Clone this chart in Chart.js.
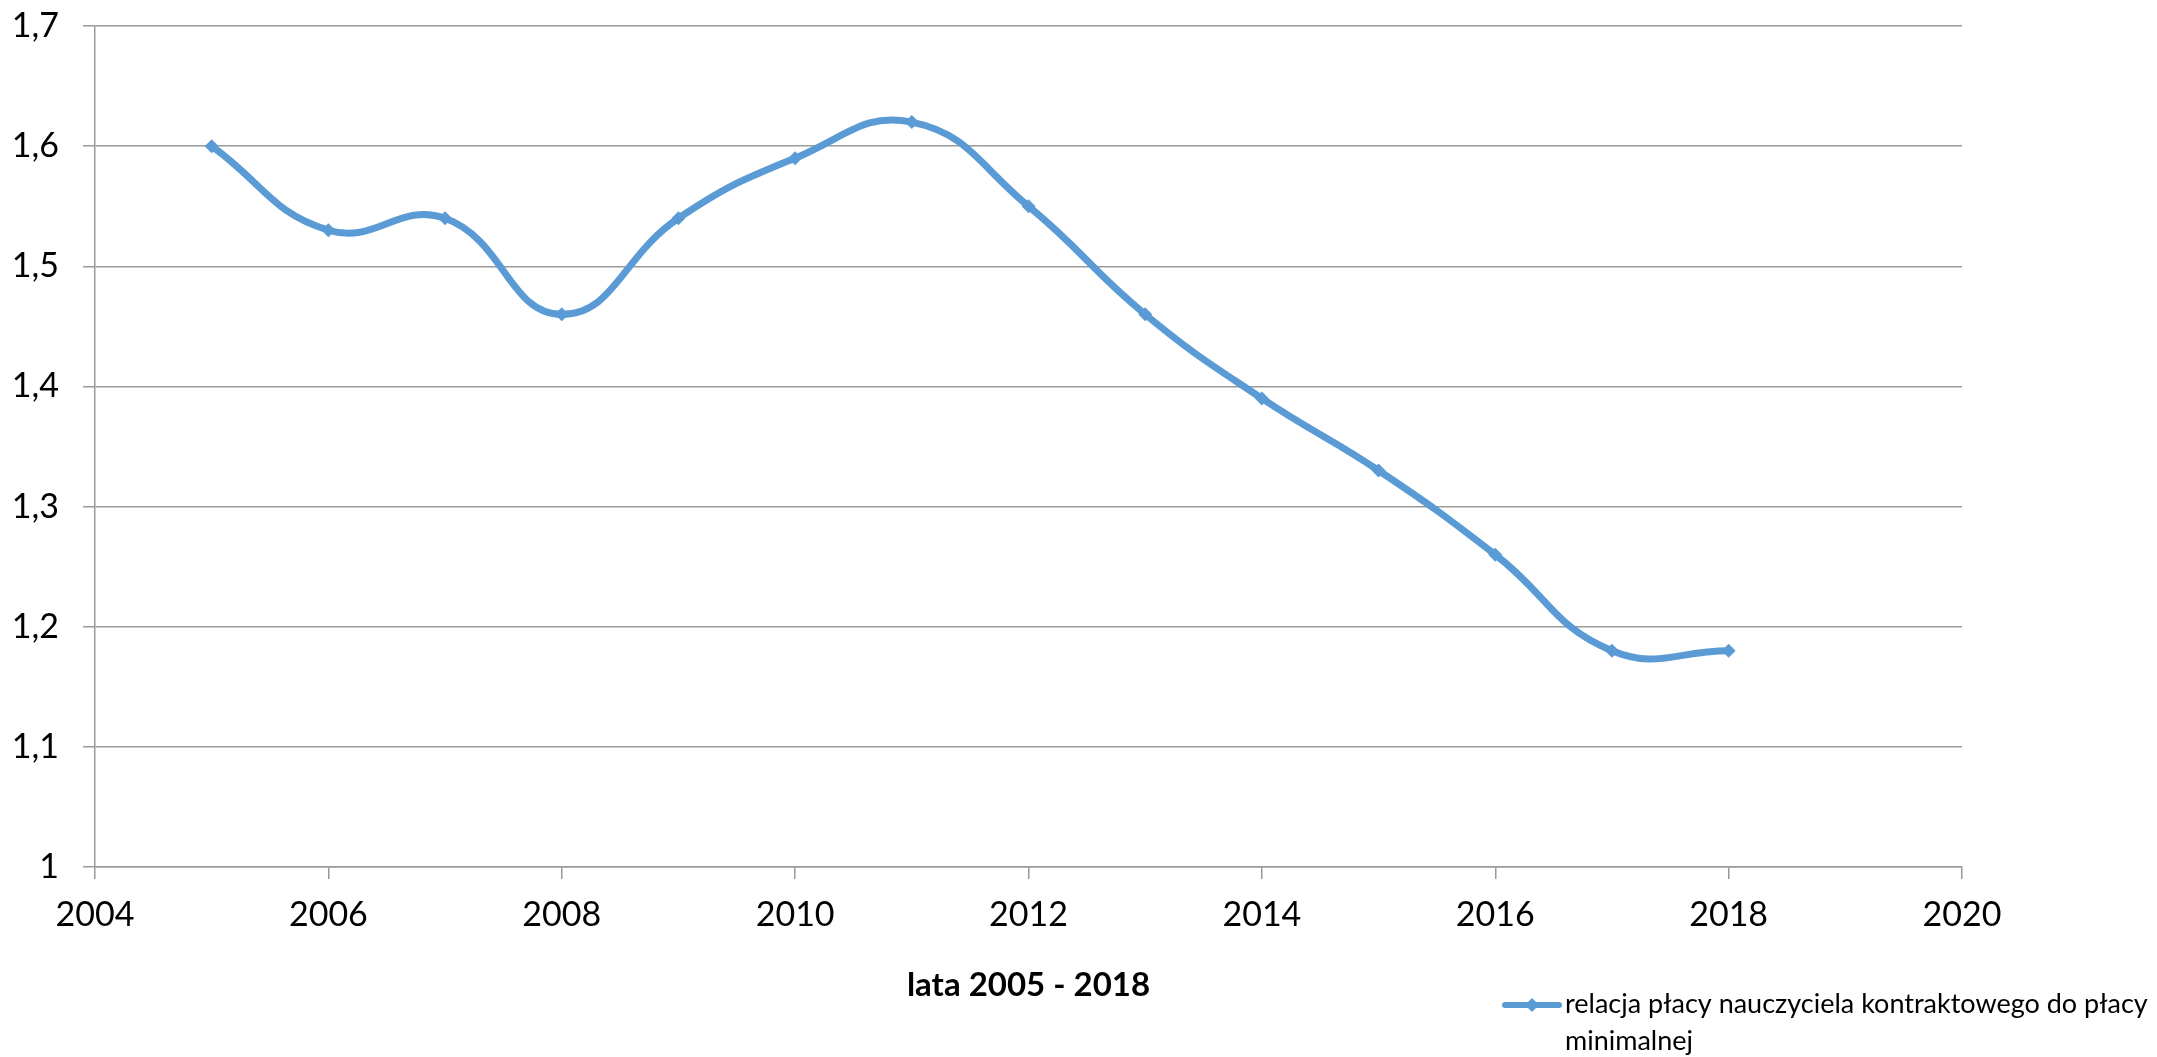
<!DOCTYPE html>
<html>
<head>
<meta charset="utf-8">
<script src="https://cdn.jsdelivr.net/npm/chart.js@4/dist/chart.umd.min.js"></script>
<style>
  html, body { margin: 0; padding: 0; background: #fff; }
  #wrap { width: 2157px; height: 1057px; position: relative; }
</style>
</head>
<body>
<div id="wrap"><canvas id="c" width="2157" height="1057"></canvas></div>
<script>
const years = [2005, 2006, 2007, 2008, 2009, 2010, 2011, 2012, 2013, 2014, 2015, 2016, 2017, 2018];
const ratio = [1.60, 1.53, 1.54, 1.46, 1.54, 1.59, 1.62, 1.55, 1.46, 1.39, 1.33, 1.26, 1.18, 1.18];
const yTickLabels = ['1', '1,1', '1,2', '1,3', '1,4', '1,5', '1,6', '1,7'];
const xTickLabels = ['2004', '2006', '2008', '2010', '2012', '2014', '2016', '2018', '2020'];
const seriesName = ['relacja płacy nauczyciela kontraktowego do płacy', 'minimalnej'];
const xTitle = 'lata 2005 - 2018';

const BLUE = '#5B9BD5';
const GRID = '#9a9a9a';
const FONT = 'Lato, "Open Sans", sans-serif';

const legendPlugin = {
  id: 'customLegend',
  afterDraw(chart) {
    const ctx = chart.ctx;
    ctx.save();
    const y = 1005;
    ctx.strokeStyle = BLUE;
    ctx.lineWidth = 6;
    ctx.lineCap = 'round';
    ctx.beginPath();
    ctx.moveTo(1505, y);
    ctx.lineTo(1559, y);
    ctx.stroke();
    ctx.fillStyle = BLUE;
    ctx.beginPath();
    ctx.moveTo(1532, y - 7);
    ctx.lineTo(1539, y);
    ctx.lineTo(1532, y + 7);
    ctx.lineTo(1525, y);
    ctx.closePath();
    ctx.fill();
    ctx.fillStyle = '#000';
    ctx.font = '27px ' + FONT;
    ctx.textBaseline = 'alphabetic';
    ctx.textAlign = 'left';
    ctx.fillText(seriesName[0], 1565, 1013);
    ctx.fillText(seriesName[1], 1565, 1050);
    ctx.restore();
  }
};

new Chart(document.getElementById('c'), {
  type: 'line',
  data: {
    datasets: [{
      label: seriesName.join(' '),
      data: years.map((yr, i) => ({ x: yr, y: ratio[i] })),
      borderColor: BLUE,
      backgroundColor: BLUE,
      borderWidth: 7,
      tension: 0.45,
      pointStyle: 'rectRot',
      pointRadius: 7,
      pointBorderWidth: 0,
      pointBackgroundColor: BLUE,
      fill: false
    }]
  },
  options: {
    responsive: false,
    animation: false,
    devicePixelRatio: 1,
    layout: { padding: { top: 26, right: 195, left: 0, bottom: 0 } },
    plugins: { legend: { display: false }, tooltip: { enabled: false } },
    scales: {
      x: {
        type: 'linear',
        min: 2004, max: 2020,
        afterFit(s) { s.height = 190; s.paddingLeft = 0; s.paddingRight = 0; },
        ticks: {
          stepSize: 2,
          padding: 16,
          color: '#000',
          font: { family: FONT, size: 34 },
          maxRotation: 0,
          callback: (v) => { const i = xTickLabels.indexOf(String(v)); return i >= 0 ? xTickLabels[i] : ''; }
        },
        grid: { display: true, drawOnChartArea: false, drawTicks: true, tickLength: 12, color: GRID, lineWidth: 1.5 },
        border: { display: true, color: GRID, width: 1.5 },
        title: {
          display: true,
          text: xTitle,
          color: '#000',
          font: { family: FONT, size: 33, weight: 'bold' },
          padding: { top: 0, bottom: 52 }
        }
      },
      y: {
        min: 1, max: 1.7,
        afterFit(s) { s.width = 95; s.paddingTop = 0; s.paddingBottom = 0; },
        ticks: {
          stepSize: 0.1,
          padding: 24,
          color: '#000',
          font: { family: FONT, size: 34 },
          callback: (v) => { const i = Math.round((v - 1) * 10); return yTickLabels[i] !== undefined ? yTickLabels[i] : ''; }
        },
        grid: { display: true, drawTicks: true, tickLength: 12, color: GRID, lineWidth: 1.5 },
        border: { display: true, color: GRID, width: 1.5 }
      }
    }
  },
  plugins: [legendPlugin]
});
</script>
</body>
</html>
